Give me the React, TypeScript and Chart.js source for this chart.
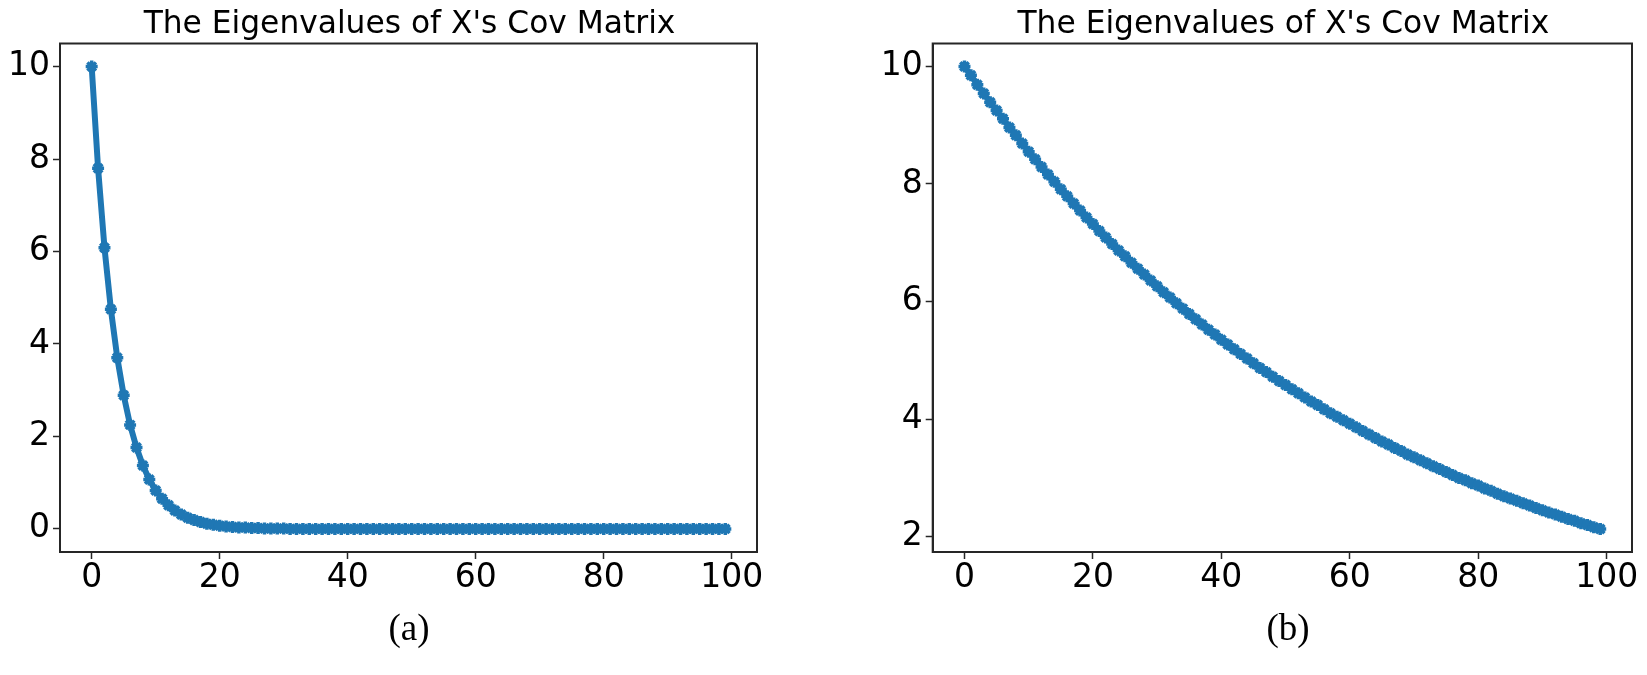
import React, { useEffect, useRef } from "react";
import { Chart, registerables } from "chart.js";

Chart.register(...registerables);

const TITLE = "The Eigenvalues of X's Cov Matrix";
const indices = [
  0, 1, 2, 3, 4, 5, 6, 7, 8, 9, 10, 11, 12, 13, 14, 15, 16, 17, 18, 19,
  20, 21, 22, 23, 24, 25, 26, 27, 28, 29, 30, 31, 32, 33, 34, 35, 36, 37, 38, 39,
  40, 41, 42, 43, 44, 45, 46, 47, 48, 49, 50, 51, 52, 53, 54, 55, 56, 57, 58, 59,
  60, 61, 62, 63, 64, 65, 66, 67, 68, 69, 70, 71, 72, 73, 74, 75, 76, 77, 78, 79,
  80, 81, 82, 83, 84, 85, 86, 87, 88, 89, 90, 91, 92, 93, 94, 95, 96, 97, 98, 99,
];
const eigenA = [
  10.0, 7.8, 6.08, 4.75, 3.7, 2.89, 2.25, 1.76, 1.37, 1.07,
  0.83, 0.65, 0.51, 0.4, 0.31, 0.24, 0.19, 0.15, 0.11, 0.09,
  0.07, 0.05, 0.04, 0.03, 0.03, 0.02, 0.02, 0.01, 0.01, 0.01,
  0.01, 0, 0, 0, 0, 0, 0, 0, 0, 0,
  0, 0, 0, 0, 0, 0, 0, 0, 0, 0,
  0, 0, 0, 0, 0, 0, 0, 0, 0, 0,
  0, 0, 0, 0, 0, 0, 0, 0, 0, 0,
  0, 0, 0, 0, 0, 0, 0, 0, 0, 0,
  0, 0, 0, 0, 0, 0, 0, 0, 0, 0,
  0, 0, 0, 0, 0, 0, 0, 0, 0, 0,
];
const eigenB = [
  10.0, 9.85, 9.69, 9.54, 9.39, 9.25, 9.11, 8.96, 8.83, 8.69,
  8.55, 8.42, 8.29, 8.16, 8.04, 7.91, 7.79, 7.67, 7.55, 7.43,
  7.32, 7.2, 7.09, 6.98, 6.87, 6.77, 6.66, 6.56, 6.46, 6.36,
  6.26, 6.16, 6.07, 5.97, 5.88, 5.79, 5.7, 5.61, 5.52, 5.44,
  5.35, 5.27, 5.19, 5.11, 5.03, 4.95, 4.87, 4.8, 4.72, 4.65,
  4.58, 4.51, 4.44, 4.37, 4.3, 4.24, 4.17, 4.1, 4.04, 3.98,
  3.92, 3.86, 3.8, 3.74, 3.68, 3.62, 3.57, 3.51, 3.46, 3.4,
  3.35, 3.3, 3.25, 3.2, 3.15, 3.1, 3.05, 3.0, 2.96, 2.91,
  2.87, 2.82, 2.78, 2.73, 2.69, 2.65, 2.61, 2.57, 2.53, 2.49,
  2.45, 2.41, 2.38, 2.34, 2.3, 2.27, 2.23, 2.2, 2.16, 2.13,
];
const xTicks = [0, 20, 40, 60, 80, 100];
const yTicksA = [0, 2, 4, 6, 8, 10];
const yTicksB = [2, 4, 6, 8, 10];

const BLUE = "#1f77b4";
const SPINE = "#262626";
const FONT = "'DejaVu Sans', sans-serif";

const framePlugin = {
  id: "frameAndTitle",
  afterDraw(chart: any) {
    const { ctx, chartArea } = chart;
    ctx.save();
    ctx.strokeStyle = SPINE;
    ctx.lineWidth = 2;
    ctx.strokeRect(chartArea.left, chartArea.top, chartArea.right - chartArea.left, chartArea.bottom - chartArea.top);
    ctx.fillStyle = "#000";
    ctx.font = `31.3px ${FONT}`;
    ctx.textAlign = "center";
    ctx.textBaseline = "alphabetic";
    ctx.fillText(TITLE, (chartArea.left + chartArea.right) / 2 + 1, 33);
    ctx.restore();
  },
};

function EigenChart(props: {
  values: number[];
  yTicks: number[];
  yMin: number;
  yMax: number;
  yAxisWidth: number;
  width: number;
  left: number;
}) {
  const ref = useRef<HTMLCanvasElement | null>(null);
  useEffect(() => {
    if (!ref.current) return;
    const chart = new Chart(ref.current, {
      type: "line",
      data: {
        labels: indices,
        datasets: [
          {
            data: props.values,
            borderColor: BLUE,
            backgroundColor: BLUE,
            borderWidth: 6,
            pointStyle: "star",
            pointRadius: 6,
            pointBorderWidth: 3.5,
            pointBorderColor: BLUE,
            pointBackgroundColor: BLUE,
            tension: 0,
          },
        ],
      },
      options: {
        animation: false,
        responsive: false,
        maintainAspectRatio: false,
        layout: { padding: { top: 43.5, right: 33, bottom: 0, left: 0 } },
        plugins: { legend: { display: false }, title: { display: false }, tooltip: { enabled: false } },
        scales: {
          x: {
            type: "linear",
            min: -4.95,
            max: 103.95,
            afterBuildTicks: (scale: any) => {
              scale.ticks = xTicks.map((v) => ({ value: v }));
            },
            afterFit: (scale: any) => {
              scale.height = 58;
            },
            grid: { display: true, drawOnChartArea: false, drawTicks: true, tickLength: 7, tickWidth: 1.5, tickColor: SPINE },
            border: { display: true, color: SPINE, width: 2 },
            ticks: { font: { family: FONT, size: 33 }, color: "#000", padding: 0, maxRotation: 0, autoSkip: false },
          },
          y: {
            type: "linear",
            min: props.yMin,
            max: props.yMax,
            afterBuildTicks: (scale: any) => {
              scale.ticks = props.yTicks.map((v) => ({ value: v }));
            },
            afterFit: (scale: any) => {
              scale.width = props.yAxisWidth;
            },
            grid: { display: true, drawOnChartArea: false, drawTicks: true, tickLength: 7, tickWidth: 1.5, tickColor: SPINE },
            border: { display: true, color: SPINE, width: 2 },
            ticks: { font: { family: FONT, size: 33 }, color: "#000", padding: 3, autoSkip: false },
          },
        },
      },
      plugins: [framePlugin],
    });
    return () => chart.destroy();
  }, []);
  return (
    <canvas
      ref={ref}
      width={props.width}
      height={610}
      style={{ position: "absolute", left: props.left, top: 0, width: props.width, height: 610 }}
    />
  );
}

const captionStyle: React.CSSProperties = {
  position: "absolute",
  top: 609,
  width: 200,
  textAlign: "center",
  fontFamily: "'Liberation Serif', 'Times New Roman', serif",
  fontSize: 37,
  lineHeight: "37px",
  color: "#000",
};

export default function App() {
  return (
    <div style={{ position: "absolute", left: 0, top: 0, width: 1647, height: 675, background: "#fff", overflow: "hidden" }}>
      <EigenChart values={eigenA} yTicks={yTicksA} yMin={-0.5} yMax={10.5} yAxisWidth={60} width={790} left={0} />
      <EigenChart values={eigenB} yTicks={yTicksB} yMin={1.74} yMax={10.39} yAxisWidth={62.7} width={795} left={870} />
      <div style={{ ...captionStyle, left: 409 - 100 }}>(a)</div>
      <div style={{ ...captionStyle, left: 1288 - 100 }}>(b)</div>
    </div>
  );
}
